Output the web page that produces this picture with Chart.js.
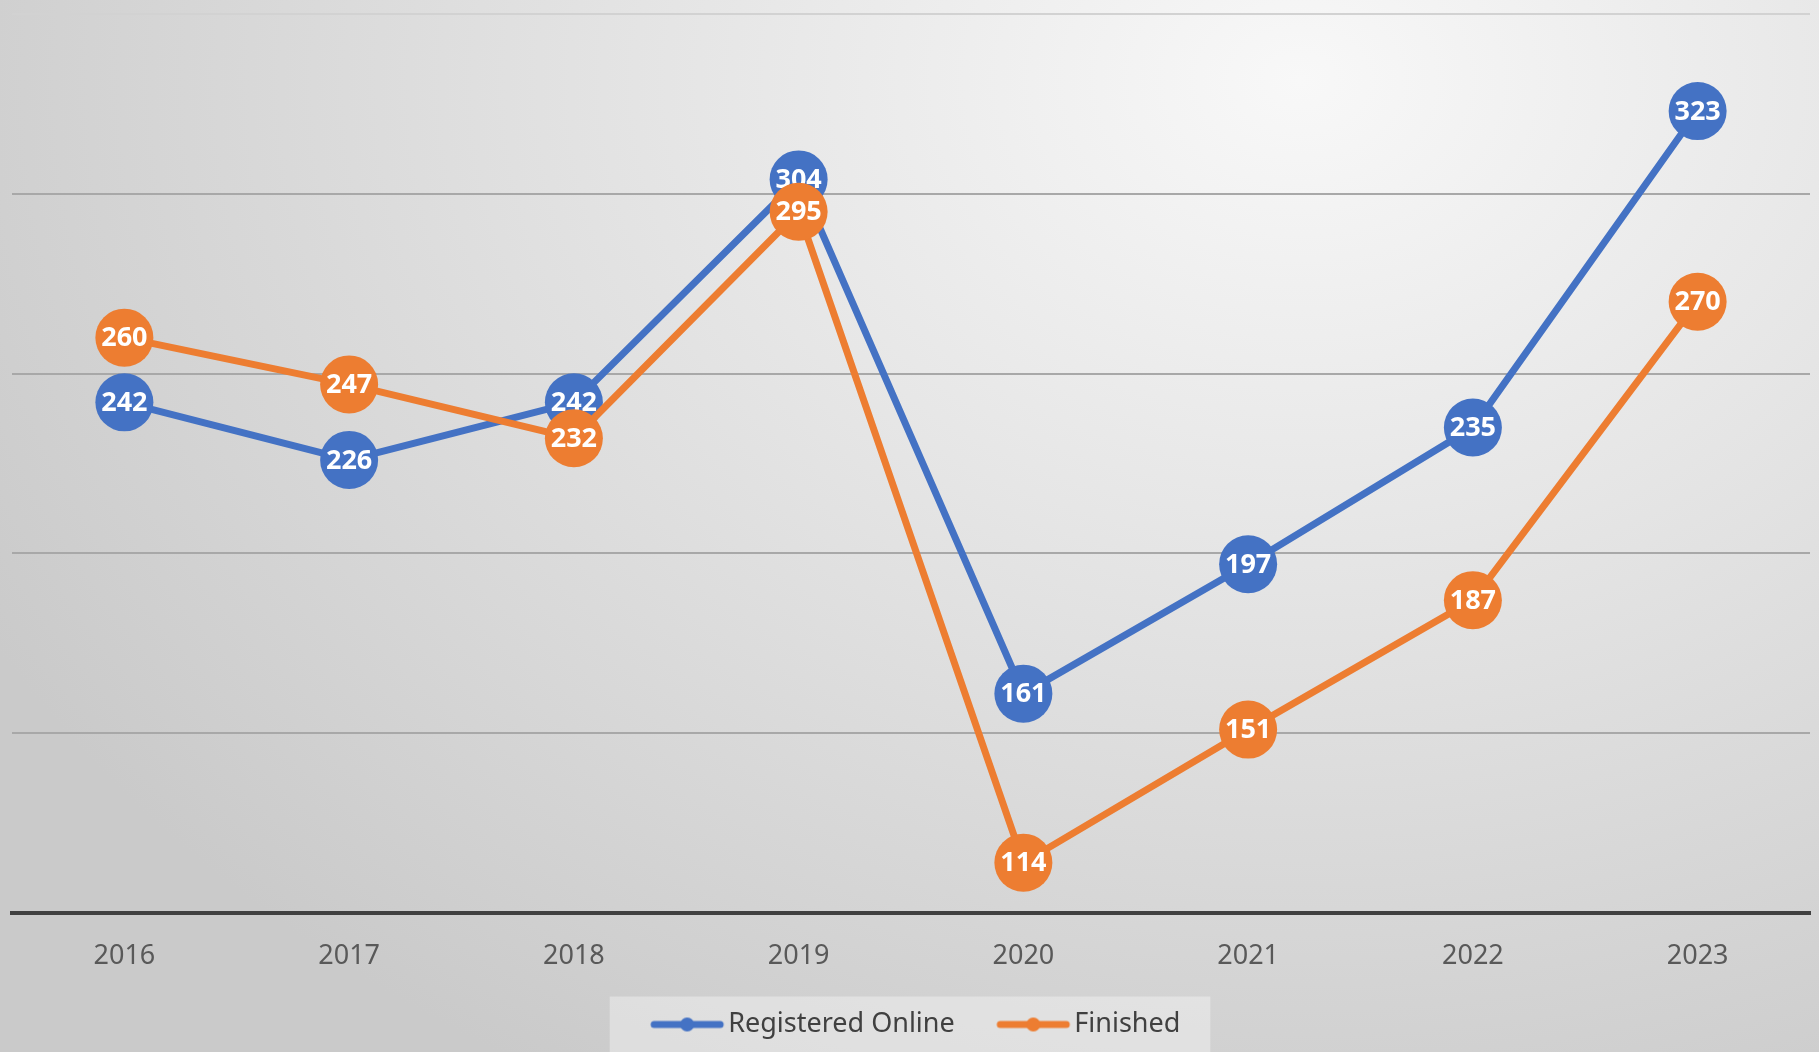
<!DOCTYPE html>
<html>
<head>
<meta charset="utf-8">
<script src="https://cdn.jsdelivr.net/npm/chart.js@4.4.1/dist/chart.umd.min.js"></script>
<style>
  html, body { margin: 0; padding: 0; }
  body {
    width: 1819px;
    height: 1052px;
    overflow: hidden;
    background: radial-gradient(ellipse 1500px 1150px at 1300px 80px, #f8f8f8 0%, #e6e6e6 40%, #cacaca 100%);
  }
</style>
</head>
<body>
<canvas id="chart" width="1819" height="1052"></canvas>
<script>
const years = ['2016', '2017', '2018', '2019', '2020', '2021', '2022', '2023'];
const registeredOnline = [242, 226, 242, 304, 161, 197, 235, 323];
const finished = [260, 247, 232, 295, 114, 151, 187, 270];
const seriesNames = ['Registered Online', 'Finished'];
const seriesColors = ['#4472C4', '#ED7D31'];

// line + dot marker for the legend (left part of the image is left empty as spacing)
function legendMarker(color) {
  const c = document.createElement('canvas');
  c.width = 96;
  c.height = 16;
  const g = c.getContext('2d');
  g.strokeStyle = color;
  g.lineWidth = 7;
  g.lineCap = 'round';
  g.beginPath();
  g.moveTo(24, 8);
  g.lineTo(90, 8);
  g.stroke();
  g.fillStyle = color;
  g.beginPath();
  g.arc(57, 8, 7, 0, Math.PI * 2);
  g.fill();
  return c;
}
const markers = seriesColors.map(legendMarker);

// white value inside each dot, drawn right after its own dataset
const pointLabels = {
  id: 'pointLabels',
  afterDatasetDraw(chart, args) {
    const { ctx } = chart;
    const ds = chart.data.datasets[args.index];
    ctx.save();
    ctx.fillStyle = '#fff';
    ctx.font = 'bold 27px "Noto Sans"';
    ctx.textAlign = 'center';
    ctx.textBaseline = 'middle';
    args.meta.data.forEach((pt, i) => {
      ctx.fillText(ds.data[i], pt.x, pt.y + 1);
    });
    ctx.restore();
  },
};

// light box behind the legend
const legendBox = {
  id: 'legendBox',
  beforeDraw(chart) {
    const boxes = chart.legend && chart.legend.legendHitBoxes;
    if (!boxes || !boxes.length) return;
    const left = Math.min(...boxes.map((b) => b.left)) - 32;
    const right = Math.max(...boxes.map((b) => b.left + b.width)) + 30;
    const midY = boxes[0].top + boxes[0].height / 2;
    const { ctx } = chart;
    ctx.save();
    ctx.fillStyle = 'rgba(255,255,255,0.35)';
    ctx.fillRect(left, midY - 28, right - left, 80);
    ctx.restore();
  },
};

new Chart(document.getElementById('chart'), {
  type: 'line',
  data: {
    labels: years,
    datasets: [
      {
        label: seriesNames[0],
        data: registeredOnline,
        borderColor: seriesColors[0],
        backgroundColor: seriesColors[0],
        pointBackgroundColor: seriesColors[0],
        borderWidth: 7,
        pointRadius: 29,
        pointHoverRadius: 29,
        pointBorderWidth: 0,
        tension: 0,
        order: 2,
      },
      {
        label: seriesNames[1],
        data: finished,
        borderColor: seriesColors[1],
        backgroundColor: seriesColors[1],
        pointBackgroundColor: seriesColors[1],
        borderWidth: 7,
        pointRadius: 29,
        pointHoverRadius: 29,
        pointBorderWidth: 0,
        tension: 0,
        order: 1,
      },
    ],
  },
  options: {
    responsive: false,
    animation: false,
    layout: {
      autoPadding: false,
      padding: { left: 12, right: 9, top: 14, bottom: 4 },
    },
    plugins: {
      tooltip: { enabled: false },
      legend: {
        position: 'bottom',
        labels: {
          usePointStyle: true,
          pointStyleWidth: 73,
          padding: 33,
          color: '#404040',
          font: { family: 'Noto Sans', size: 27 },
          sort: (a, b) => a.datasetIndex - b.datasetIndex,
          generateLabels(chart) {
            const items = Chart.defaults.plugins.legend.labels.generateLabels(chart);
            items.forEach((it) => {
              it.pointStyle = markers[it.datasetIndex];
            });
            return items;
          },
        },
      },
    },
    scales: {
      x: {
        offset: true,
        afterFit(scale) {
          scale.height = 65;
        },
        grid: { display: false, drawTicks: false },
        border: { display: true, color: '#404040', width: 4 },
        ticks: {
          color: '#595959',
          padding: 27,
          font: { family: 'Noto Sans', size: 27 },
        },
      },
      y: {
        min: 100,
        max: 350,
        afterFit(scale) {
          scale.width = 0;
        },
        grid: {
          drawTicks: false,
          lineWidth: 2,
          color: (c) => (c.tick && c.tick.value === 350 ? '#d2d2d2' : '#a8a8a8'),
        },
        border: { display: false },
        ticks: { display: false, stepSize: 50 },
      },
    },
  },
  plugins: [legendBox, pointLabels],
});
</script>
</body>
</html>
